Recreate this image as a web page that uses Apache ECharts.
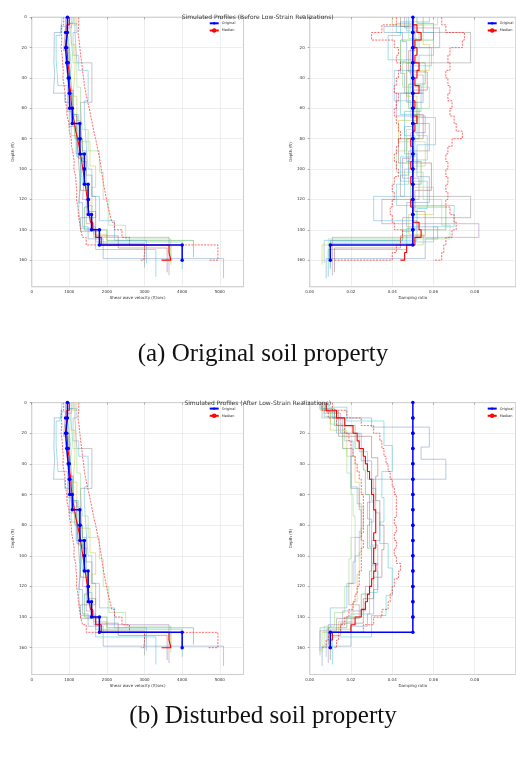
<!DOCTYPE html>
<html><head><meta charset="utf-8">
<script src="https://cdn.jsdelivr.net/npm/echarts@6/dist/echarts.min.js"></script>
<style>html,body{margin:0;padding:0;background:#fff}#c{width:516px;height:760px}</style>
</head><body><div id="c"></div>
<script>
// ---------- tick labels ----------
const depthTicks = [0,20,40,60,80,100,120,140,160];
const vsTicks = [0,1000,2000,3000,4000,5000];
const dampTicks = [0.00,0.02,0.04,0.06,0.08];

// ---------- original profile ----------
const origDepths = [0,10,20,30,40,50,60,70,80,90,100,110,120,130,140,150,160];
const origVs = [950,900,930,970,1000,1010,1080,1280,1285,1400,1400,1500,1505,1590,1800,4000];
const origDampBefore = [0.05,0.05,0.05,0.05,0.05,0.05,0.05,0.05,0.05,0.05,0.05,0.05,0.05,0.05,0.05,0.01];
const origDampAfter  = [0.05,0.05,0.05,0.05,0.05,0.05,0.05,0.05,0.05,0.05,0.05,0.05,0.05,0.05,0.05,0.01];

// ---------- median / percentile profiles (5 ft layers) ----------
const statDepths = [0,5,10,15,20,25,30,35,40,45,50,55,60,65,70,75,80,85,90,95,100,105,110,115,120,125,130,135,140,145,150,155,160];
const vsP16 = [850,790,800,780,810,820,840,830,860,890,900,930,940,990,1000,1050,1060,1100,1130,1120,1170,1180,1200,1190,1230,1240,1270,1300,1350,1450,3000,2980];
const vsMed = [1000,940,920,930,950,960,990,1000,1010,1040,1050,1070,1100,1140,1170,1220,1260,1300,1330,1360,1390,1420,1450,1480,1500,1530,1560,1620,1700,1850,3650,3700];
const vsP84 = [1250,1230,1260,1280,1300,1330,1350,1380,1400,1440,1480,1530,1570,1610,1650,1700,1740,1780,1820,1850,1880,1910,1950,1990,2030,2080,2130,2200,2400,2600,4950,4950];
const vsEnd = [2900,3450,4700];

const dampBP16 = [0.042,0.035,0.030,0.041,0.043,0.042,0.044,0.043,0.042,0.041,0.043,0.042,0.041,0.042,0.043,0.044,0.043,0.042,0.041,0.042,0.043,0.041,0.040,0.041,0.040,0.039,0.040,0.041,0.045,0.044,0.042,0.040];
const dampBMed = [0.050,0.052,0.054,0.051,0.052,0.051,0.053,0.052,0.051,0.053,0.050,0.051,0.050,0.052,0.051,0.050,0.049,0.050,0.050,0.049,0.050,0.049,0.050,0.050,0.049,0.050,0.050,0.053,0.054,0.051,0.047,0.046];
const dampBP84 = [0.064,0.066,0.075,0.074,0.068,0.067,0.068,0.066,0.067,0.068,0.067,0.069,0.068,0.070,0.071,0.074,0.069,0.067,0.066,0.067,0.066,0.067,0.066,0.067,0.066,0.068,0.070,0.071,0.069,0.066,0.065,0.064];
const dampBEnd = [0.012,0.044,0.060];

const dampAP16 = [0.006,0.009,0.013,0.017,0.019,0.020,0.021,0.022,0.023,0.024,0.025,0.025,0.026,0.026,0.026,0.026,0.026,0.025,0.026,0.025,0.025,0.025,0.024,0.024,0.023,0.022,0.021,0.019,0.017,0.015,0.009,0.008];
const dampAMed = [0.008,0.013,0.017,0.021,0.023,0.024,0.026,0.027,0.028,0.029,0.030,0.030,0.031,0.031,0.032,0.032,0.032,0.031,0.032,0.031,0.031,0.032,0.031,0.030,0.029,0.028,0.027,0.025,0.022,0.020,0.011,0.010];
const dampAP84 = [0.011,0.018,0.025,0.031,0.034,0.035,0.036,0.037,0.038,0.039,0.040,0.041,0.042,0.042,0.042,0.041,0.042,0.041,0.042,0.041,0.042,0.044,0.043,0.041,0.040,0.039,0.038,0.035,0.031,0.026,0.014,0.013];
const dampAEnd = [0.006,0.009,0.012];

// ---------- realizations (layer boundaries, Vs, damping before, damping after) ----------
const rDepth1 = [0,6,10,16,29,37,50,56,72,90,105,122,138,146,159,172];
const rVs1 = [950,800,600,590,610,580,880,1000,1180,1300,1250,1350,1500,1900,5100];
const rDB1 = [0.048,0.036,0.045,0.047,0.044,0.046,0.055,0.050,0.046,0.052,0.058,0.047,0.062,0.056,0.008];
const rDA1 = [0.008,0.012,0.030,0.058,0.054,0.066,0.030,0.032,0.034,0.030,0.033,0.031,0.028,0.020,0.006];

const rDepth2 = [0,4,15,30,44,60,80,95,110,125,140,147,158];
const rVs2 = [1100,950,1000,1050,1100,1150,1350,1450,1500,1400,2000,4300];
const rDB2 = [0.052,0.060,0.044,0.056,0.048,0.053,0.047,0.054,0.049,0.066,0.045,0.010];
const rDA2 = [0.006,0.012,0.022,0.026,0.027,0.029,0.028,0.030,0.029,0.025,0.018,0.009];

const rDepth3 = [0,5,18,35,52,68,82,98,112,130,143,150,163];
const rVs3 = [1200,1050,1150,1100,1200,1300,1550,1700,1600,1650,2000,3700];
const rDB3 = [0.040,0.055,0.058,0.047,0.052,0.043,0.056,0.050,0.060,0.048,0.055,0.006];
const rDA3 = [0.005,0.010,0.018,0.022,0.024,0.026,0.025,0.024,0.023,0.021,0.014,0.006];

const rDepth4 = [0,3,12,28,45,62,78,92,108,126,139,153,171];
const rVs4 = [800,750,650,700,950,1050,1200,1300,1250,1300,1700,3300];
const rDB4 = [0.058,0.044,0.038,0.050,0.054,0.046,0.051,0.044,0.057,0.052,0.047,0.009];
const rDA4 = [0.009,0.018,0.036,0.040,0.035,0.036,0.034,0.038,0.040,0.037,0.030,0.011];

const rDepth5 = [0,7,20,38,50,65,76,93,106,120,136,145,170];
const rVs5 = [1050,900,1000,1000,1050,1200,1250,1400,1350,1450,1650,3650];
const rDB5 = [0.046,0.063,0.049,0.055,0.042,0.056,0.049,0.045,0.053,0.035,0.082,0.011];
const rDA5 = [0.007,0.015,0.025,0.030,0.031,0.028,0.030,0.033,0.030,0.027,0.016,0.009];

const rDepth6 = [0,10,30,56,70,88,104,118,132,141,149,165];
const rVs6 = [1150,1200,1600,1300,1350,1450,1600,1700,1300,1800,3000];
const rDB6 = [0.055,0.078,0.047,0.052,0.058,0.048,0.044,0.078,0.045,0.050,0.010];
const rDA6 = [0.006,0.016,0.020,0.024,0.025,0.022,0.021,0.019,0.024,0.013,0.005];

const rDepth7 = [0,4,10,25,35,55,66,84,100,118,134,147,162];
const rVs7 = [1000,1200,1100,1250,1500,1400,1450,1500,1600,1800,2200,3050];
const rDB7 = [0.050,0.042,0.060,0.053,0.041,0.049,0.061,0.052,0.046,0.031,0.052,0.007];
const rDA7 = [0.005,0.011,0.017,0.021,0.020,0.023,0.025,0.024,0.022,0.018,0.010,0.005];

const rDepth8 = [0,6,22,36,48,64,80,96,114,128,144,152,168];
const rVs8 = [900,850,950,1000,1100,1200,1250,1300,1500,1700,2300,3600];
const rDB8 = [0.044,0.051,0.048,0.057,0.050,0.055,0.043,0.059,0.051,0.056,0.044,0.012];
const rDA8 = [0.008,0.014,0.030,0.033,0.032,0.034,0.036,0.035,0.031,0.026,0.015,0.010];

const rDepth9 = [0,5,14,30,46,60,74,88,102,120,137,146,160];
const rVs9 = [1000,1050,1100,1200,1300,1350,1500,1800,1900,2050,2500,3700];
const rDB9 = [0.062,0.048,0.052,0.045,0.058,0.051,0.047,0.042,0.055,0.064,0.068,0.009];
const rDA9 = [0.006,0.010,0.016,0.018,0.020,0.021,0.022,0.020,0.019,0.017,0.012,0.007];

const rDepth10 = [0,9,20,32,50,64,78,94,110,124,138,148,166];
const rVs10 = [950,1000,1050,1000,1100,1250,1300,1350,1500,1600,1700,4000];
const rDB10 = [0.047,0.053,0.059,0.049,0.044,0.052,0.057,0.048,0.042,0.070,0.060,0.010];
const rDA10 = [0.007,0.013,0.024,0.028,0.030,0.031,0.029,0.031,0.033,0.029,0.020,0.008];

const realizations = [
  [rDepth1,rVs1,rDB1,rDA1],[rDepth2,rVs2,rDB2,rDA2],[rDepth3,rVs3,rDB3,rDA3],[rDepth4,rVs4,rDB4,rDA4],
  [rDepth5,rVs5,rDB5,rDA5],[rDepth6,rVs6,rDB6,rDA6],[rDepth7,rVs7,rDB7,rDA7],[rDepth8,rVs8,rDB8,rDA8],
  [rDepth9,rVs9,rDB9,rDA9],[rDepth10,rVs10,rDB10,rDA10]
];
const realColors = ['#5b86b5','#2ca02c','#bcbd22','#17becf','#9467bd','#7f7f7f','#4fa3e0','#8c564b','#7fcf6f','#3fb8c8'];

// ---------- build ----------
function steps(depths, vals, endVal) {
  const pts = [];
  for (let i = 0; i < vals.length; i++) {
    pts.push([vals[i], depths[i]]);
    pts.push([vals[i], depths[i + 1]]);
  }
  if (endVal !== undefined) pts.push([endVal, depths[depths.length - 1]]);
  return pts;
}

const FONT = 'DejaVu Sans';
const panels = [
  {left: 31.7, top: 17.3, height: 269.4, kind: 'vs'},
  {left: 309.7, top: 17.3, height: 269.4, kind: 'db'},
  {left: 31.7, top: 402.6, height: 271.9, kind: 'vs'},
  {left: 309.7, top: 402.6, height: 271.9, kind: 'da'}
];
const grids = [], xAxes = [], yAxes = [], series = [], legends = [];
panels.forEach((p, gi) => {
  grids.push({left: p.left, top: p.top, width: 211.8, height: p.height, show: true,
    borderColor: '#9a9a9a', borderWidth: 0.8, backgroundColor: 'transparent'});
  const isVs = p.kind === 'vs';
  const ticks = isVs ? vsTicks : dampTicks;
  const xint = ticks[1] - ticks[0];
  xAxes.push({type: 'value', gridIndex: gi, min: ticks[0], max: isVs ? 5630 : 0.1, interval: xint,
    name: isVs ? 'Shear wave velocity (ft/sec)' : 'Damping ratio',
    nameLocation: 'middle', nameGap: 9, nameTextStyle: {fontSize: 4, color: '#333', fontFamily: FONT},
    axisLine: {show: false},
    axisTick: {show: true, length: 2, lineStyle: {color: '#666', width: 0.5}},
    axisLabel: {fontSize: 4, color: '#333', margin: 3, fontFamily: FONT, showMaxLabel: false,
      formatter: v => isVs ? String(v) : v.toFixed(2)},
    splitLine: {show: true, lineStyle: {color: '#e3e3e3', width: 0.6}}});
  yAxes.push({type: 'value', gridIndex: gi, inverse: true, min: depthTicks[0], max: 177.5,
    interval: depthTicks[1] - depthTicks[0],
    name: 'Depth (ft)', nameLocation: 'middle', nameGap: 14, nameRotate: 90,
    nameTextStyle: {fontSize: 4, color: '#333', fontFamily: FONT},
    axisLine: {show: false},
    axisTick: {show: true, length: 2, lineStyle: {color: '#666', width: 0.5}},
    axisLabel: {fontSize: 4, color: '#333', margin: 5, fontFamily: FONT, showMaxLabel: false},
    splitLine: {show: true, lineStyle: {color: '#e3e3e3', width: 0.6}}});

  const col = isVs ? 1 : (p.kind === 'db' ? 2 : 3);
  realizations.forEach((r, ri) => {
    series.push({type: 'line', name: 'Realization ' + (ri + 1), xAxisIndex: gi, yAxisIndex: gi,
      data: steps(r[0], r[col]), showSymbol: false, silent: true,
      lineStyle: {color: realColors[ri], width: 0.8, opacity: 0.55}, z: 2});
  });
  const st = isVs ? [vsP16, vsMed, vsP84, vsEnd]
    : (p.kind === 'db' ? [dampBP16, dampBMed, dampBP84, dampBEnd] : [dampAP16, dampAMed, dampAP84, dampAEnd]);
  series.push({type: 'line', name: '16th percentile', xAxisIndex: gi, yAxisIndex: gi,
    data: steps(statDepths, st[0], st[3][0]), showSymbol: false, silent: true,
    lineStyle: {color: '#ff2020', width: 0.8, type: [2, 1.2], opacity: 0.85}, z: 3});
  series.push({type: 'line', name: '84th percentile', xAxisIndex: gi, yAxisIndex: gi,
    data: steps(statDepths, st[2], st[3][2]), showSymbol: false, silent: true,
    lineStyle: {color: '#ff2020', width: 0.8, type: [2, 1.2], opacity: 0.85}, z: 3});
  series.push({type: 'line', name: 'Median', xAxisIndex: gi, yAxisIndex: gi,
    data: steps(statDepths, st[1], st[3][1]), showSymbol: false, silent: true,
    itemStyle: {color: '#ff0000'},
    lineStyle: {color: '#ff0000', width: 1.1}, z: 4});
  const ov = isVs ? origVs : (p.kind === 'db' ? origDampBefore : origDampAfter);
  series.push({type: 'line', name: 'Original', xAxisIndex: gi, yAxisIndex: gi,
    data: steps(origDepths, ov), symbol: 'circle', symbolSize: 3.5, showSymbol: true, silent: true,
    itemStyle: {color: '#0000ff'},
    lineStyle: {color: '#0000ff', width: 1.5}, z: 5});

  legends.push({data: ['Original', 'Median'], orient: 'vertical', left: p.left + 176, top: p.top + 3,
    itemWidth: 9, itemHeight: 3, itemGap: 3, padding: 1,
    textStyle: {fontSize: 3.5, color: '#333', fontFamily: FONT, padding: [0, 0, 0, -2]},
    selectedMode: false});
});

const titles = [
  {text: 'Simulated Profiles (Before Low-Strain Realizations)', left: 252.7, top: 9.5, textAlign: 'center',
    textStyle: {fontSize: 6, fontWeight: 'normal', color: '#333', fontFamily: FONT}},
  {text: 'Simulated Profiles (After Low-Strain Realizations)', left: 252.7, top: 395, textAlign: 'center',
    textStyle: {fontSize: 6, fontWeight: 'normal', color: '#333', fontFamily: FONT}},
  {text: '(a) Original soil property', left: 258, top: 337, textAlign: 'center',
    textStyle: {fontSize: 25, fontWeight: 'normal', color: '#111', fontFamily: 'Liberation Serif'}},
  {text: '(b) Disturbed soil property', left: 258, top: 699, textAlign: 'center',
    textStyle: {fontSize: 25, fontWeight: 'normal', color: '#111', fontFamily: 'Liberation Serif'}}
];

const chart = echarts.init(document.getElementById('c'), null, {renderer: 'canvas'});
chart.setOption({
  animation: false,
  backgroundColor: '#fff',
  title: titles,
  legend: legends,
  grid: grids,
  xAxis: xAxes,
  yAxis: yAxes,
  series: series
});
</script>
</body></html>
